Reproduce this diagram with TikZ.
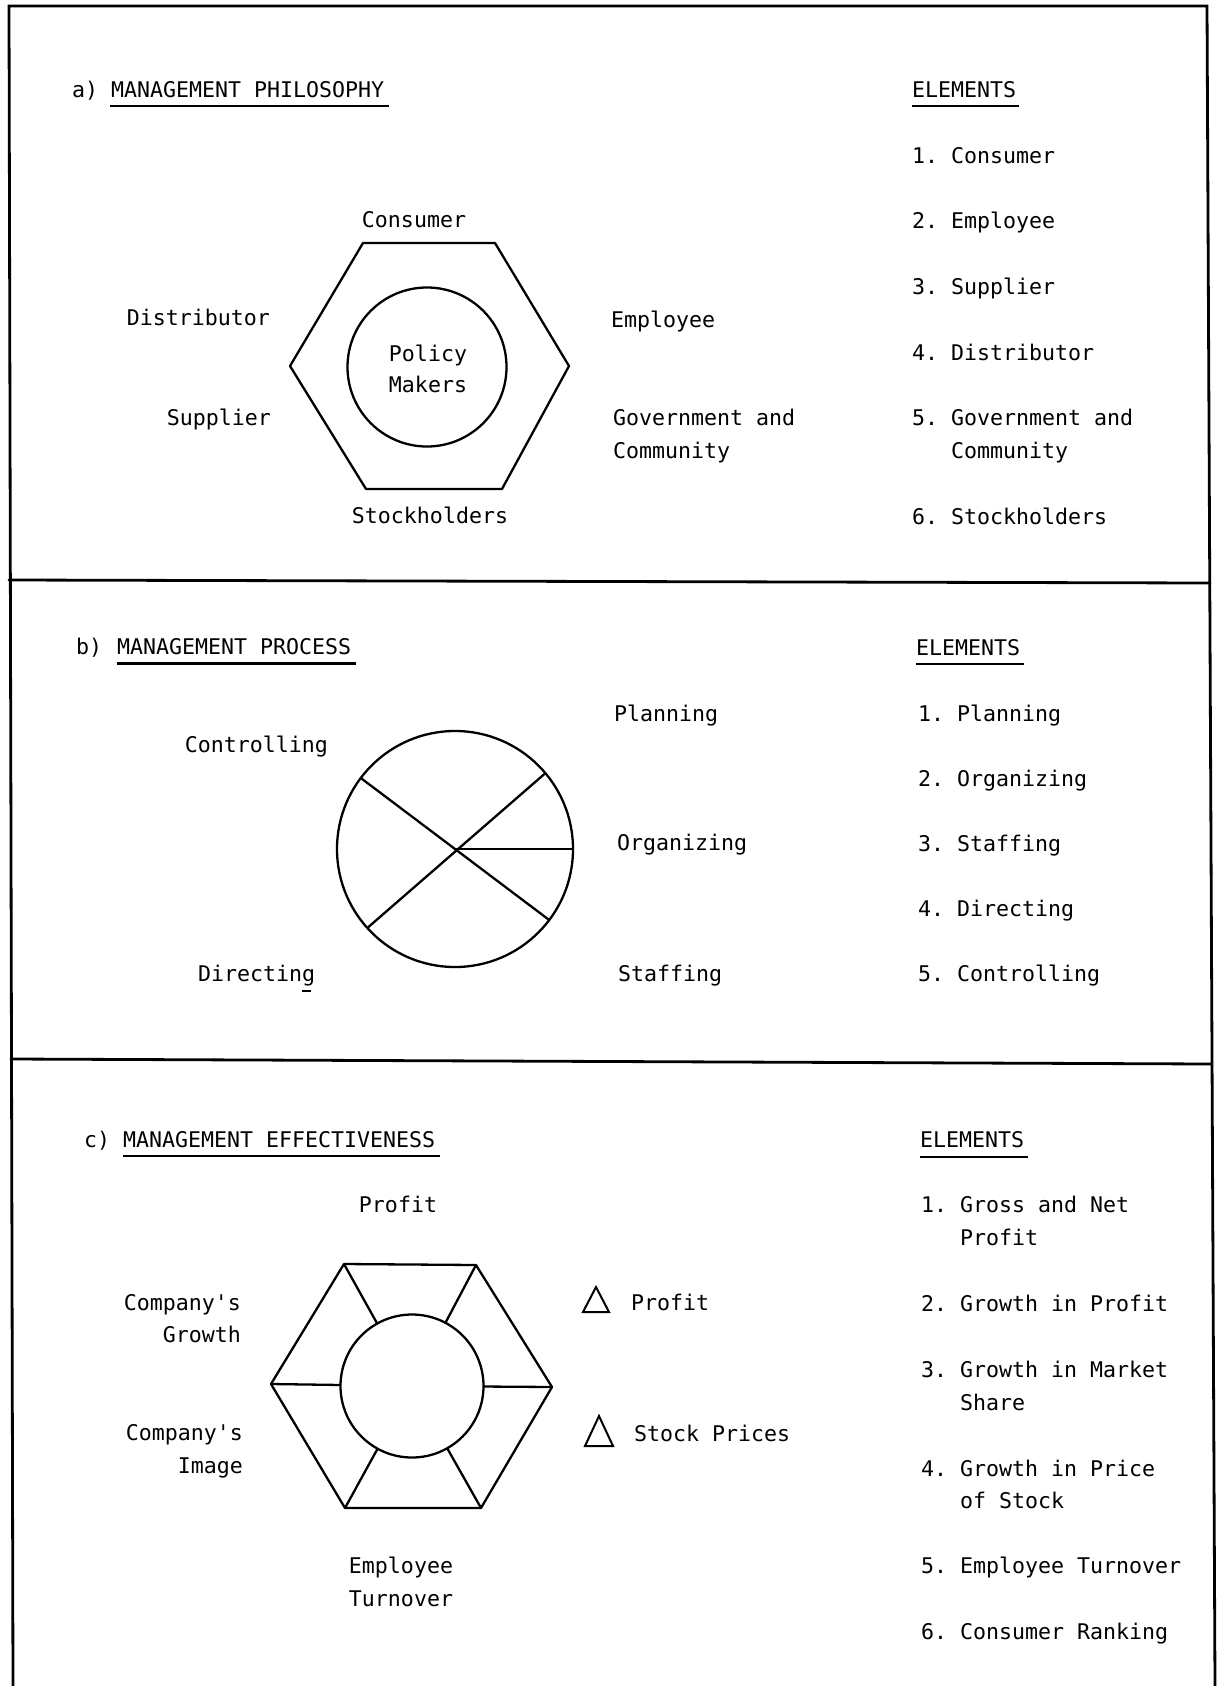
\documentclass[tikz,border=0pt]{standalone}
\usepackage{fontspec}
\setmonofont{DejaVu Sans Mono}
\usetikzlibrary{calc}
\tikzset{
  txt/.style={inner sep=0pt, outer sep=0pt, font=\ttfamily\fontsize{21.6}{26}\selectfont, anchor=base west},
  txtc/.style={txt, anchor=base},
  txte/.style={txt, anchor=base east},
  borderline/.style={line width=2.8pt, line cap=round},
  figline/.style={line width=2.3pt, line join=round},
  uline/.style={line width=2.5pt},
  ring/.style={circle, draw, figline, inner sep=0pt, outer sep=0pt},
}
\begin{document}
\begin{tikzpicture}[x=1pt,y=-1pt]
\useasboundingbox (0,0) rectangle (1219,1686);
% frame
\coordinate (tl) at (9,6);
\coordinate (tr) at (1207,6);
\coordinate (bl) at (13,1686);
\coordinate (br) at (1215,1686);
\coordinate (s1l) at (9,580);
\coordinate (s1r) at (1210,583);
\coordinate (s2l) at (11,1059);
\coordinate (s2r) at (1211,1064);
\draw[borderline] (bl) -- (tl) -- (tr) -- (br);
\draw[borderline] (s1l) -- (s1r);
\draw[borderline] (s2l) -- (s2r);

% ---------- a) ----------
\node[txt] (alab) at (72,97) {a)};
\node[txt] (atitle) at (111,97) {MANAGEMENT PHILOSOPHY};
\draw[uline] ($(atitle.base west)+(-1,9)$) -- ($(atitle.base east)+(5,9)$);
\node[txt] (aelem) at (912,97) {ELEMENTS};
\draw[uline] ($(aelem.base west)+(0,9)$) -- ($(aelem.base east)+(3,9)$);
\node[txt] (a1) at (912,163) {1. Consumer};
\node[txt] (a2) at (912,228) {2. Employee};
\node[txt] (a3) at (912,294) {3. Supplier};
\node[txt] (a4) at (912,360) {4. Distributor};
\node[txt] (a5) at (912,425) {5. Government and};
\node[txt] (a5b) at (951,458) {Community};
\node[txt] (a6) at (912,524) {6. Stockholders};

\coordinate (ha1) at (363,243);
\coordinate (ha2) at (495,243);
\coordinate (ha3) at (569,366);
\coordinate (ha4) at (502,489);
\coordinate (ha5) at (366,489);
\coordinate (ha6) at (290,366);
\draw[figline] (ha1) -- (ha2) -- (ha3) -- (ha4) -- (ha5) -- (ha6) -- cycle;
\node[ring, minimum size=159pt] (pm) at (427,367) {};
\node[txtc] (policy) at (428,361) {Policy};
\node[txtc] (makers) at (428,392) {Makers};
\node[txtc] (consumer) at (414,227) {Consumer};
\node[txte] (distributor) at (270,325) {Distributor};
\node[txte] (supplier) at (271,425) {Supplier};
\node[txt] (employee) at (611,327) {Employee};
\node[txt] (gov) at (613,425) {Government and};
\node[txt] (gov2) at (613,458) {Community};
\node[txtc] (stock) at (430,523) {Stockholders};

% ---------- b) ----------
\node[txt] (blab) at (76,654) {b)};
\node[txt] (btitle) at (117,654) {MANAGEMENT PROCESS};
\draw[uline] ($(btitle.base west)+(0,9.5)$) -- ($(btitle.base east)+(5,9.5)$);
\node[txt] (belem) at (916,655) {ELEMENTS};
\draw[uline] ($(belem.base west)+(0,9)$) -- ($(belem.base east)+(4,9)$);
\node[txt] (b1) at (918,721) {1. Planning};
\node[txt] (b2) at (918,786) {2. Organizing};
\node[txt] (b3) at (918,851) {3. Staffing};
\node[txt] (b4) at (918,916) {4. Directing};
\node[txt] (b5) at (918,981) {5. Controlling};

\node[ring, minimum size=236pt] (pie) at (455,849) {};
\draw[figline] (pie.143) -- (pie.323);
\draw[figline] (pie.40) -- (pie.222);
\draw[figline] (pie.center) -- (pie.0);
\node[txt] (planning) at (614,721) {Planning};
\node[txte] (controlling) at (328,752) {Controlling};
\node[txt] (organizing) at (617,850) {Organizing};
\node[txt] (directing) at (198,981) {Directing};
\node[txt] (staffing) at (618,981) {Staffing};
\draw[line width=2pt] ($(directing.base east)+(-13,10)$) -- ($(directing.base east)+(-4,10)$);

% ---------- c) ----------
\node[txt] (clab) at (84,1147) {c)};
\node[txt] (ctitle) at (123,1147) {MANAGEMENT EFFECTIVENESS};
\draw[uline] ($(ctitle.base west)+(0,9)$) -- ($(ctitle.base east)+(5,9)$);
\node[txt] (celem) at (920,1147) {ELEMENTS};
\draw[uline] ($(celem.base west)+(0,10)$) -- ($(celem.base east)+(4,10)$);
\node[txt] (c1) at (921,1212) {1. Gross and Net};
\node[txt] (c1b) at (960,1245) {Profit};
\node[txt] (c2) at (921,1311) {2. Growth in Profit};
\node[txt] (c3) at (921,1377) {3. Growth in Market};
\node[txt] (c3b) at (960,1410) {Share};
\node[txt] (c4) at (921,1476) {4. Growth in Price};
\node[txt] (c4b) at (960,1508) {of Stock};
\node[txt] (c5) at (921,1573) {5. Employee Turnover};
\node[txt] (c6) at (921,1639) {6. Consumer Ranking};

\coordinate (hc1) at (344,1264);
\coordinate (hc2) at (476,1265);
\coordinate (hc3) at (552,1387);
\coordinate (hc4) at (481,1508);
\coordinate (hc5) at (345,1508);
\coordinate (hc6) at (271,1384);
\draw[figline] (hc1) -- (hc2) -- (hc3) -- (hc4) -- (hc5) -- (hc6) -- cycle;
\node[ring, minimum size=143pt] (cc) at (412,1386) {};
\foreach \v in {hc1,hc2,hc3,hc4,hc5,hc6} \draw[figline] (\v) -- (cc);

\node[txtc] (profit) at (398,1212) {Profit};
\node[txte] (growth1) at (241,1310) {Company's};
\node[txte] (growth2) at (241,1342) {Growth};
\node[txte] (image1) at (243,1440) {Company's};
\node[txte] (image2) at (243,1473) {Image};
\node[txtc] (emp1) at (401,1573) {Employee};
\node[txtc] (emp2) at (401,1606) {Turnover};

\coordinate (ta1) at (596,1287);
\coordinate (ta2) at (609,1312);
\coordinate (ta3) at (583,1312);
\draw[line width=2pt, line join=miter] (ta1) -- (ta2) -- (ta3) -- cycle;
\node[txt] (dprofit) at (631,1310) {Profit};
\coordinate (tb1) at (599,1416);
\coordinate (tb2) at (613,1446);
\coordinate (tb3) at (585,1446);
\draw[line width=2pt, line join=miter] (tb1) -- (tb2) -- (tb3) -- cycle;
\node[txt] (dstock) at (634,1441) {Stock Prices};
\end{tikzpicture}
\end{document}
